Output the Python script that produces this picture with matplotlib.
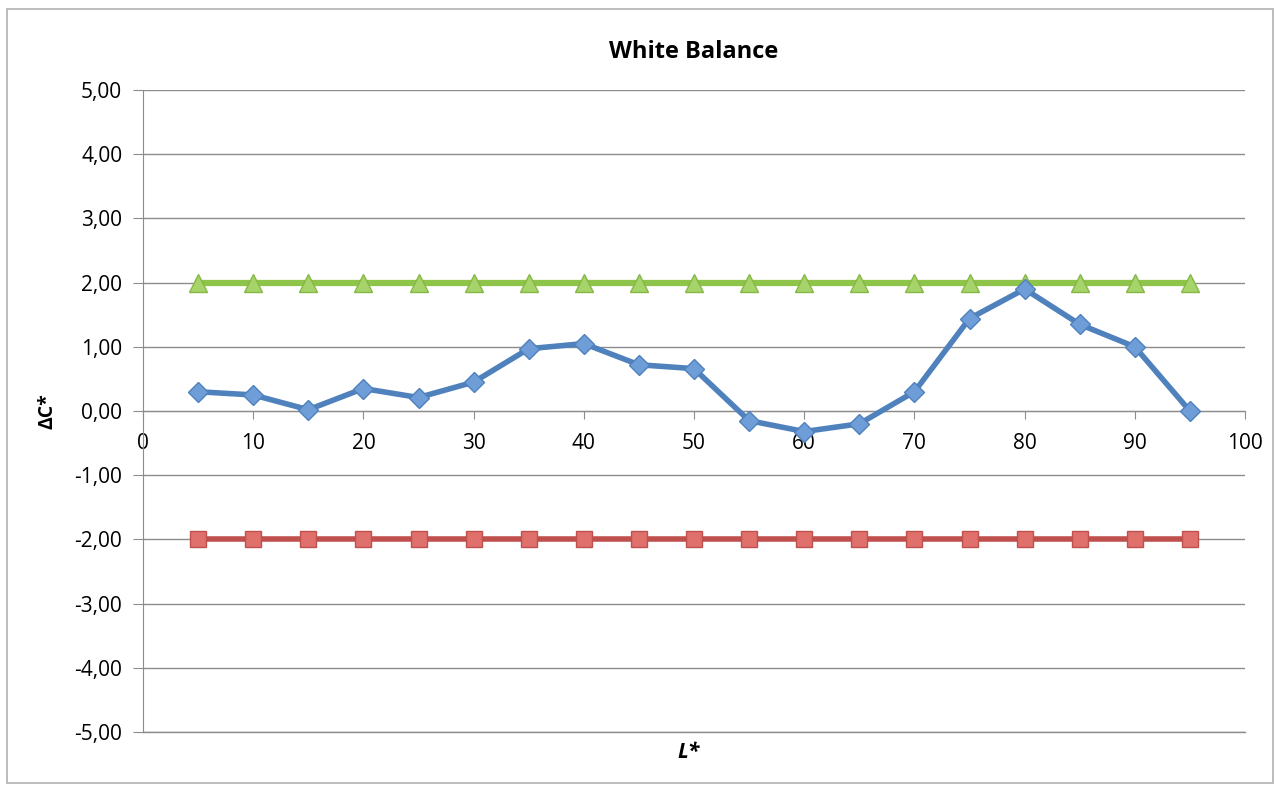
"""
White Balance chart: delta C* against L*, with the +2 / -2 tolerance lines.
"""

import matplotlib
matplotlib.use('Agg')
import matplotlib.pyplot as plt
from matplotlib.patches import Rectangle

plt.rcParams['font.family'] = ['Open Sans', 'DejaVu Sans']

# data
l_star = [5, 10, 15, 20, 25, 30, 35, 40, 45, 50, 55, 60, 65, 70, 75, 80, 85, 90, 95]
delta_c = [0.30, 0.25, 0.02, 0.35, 0.21, 0.45, 0.97, 1.05, 0.72, 0.66,
           -0.15, -0.32, -0.20, 0.30, 1.44, 1.90, 1.35, 1.00, 0.00]
upper_limit = [2.0] * len(l_star)
lower_limit = [-2.0] * len(l_star)
y_ticks = [5, 4, 3, 2, 1, 0, -1, -2, -3, -4, -5]
x_ticks = [0, 10, 20, 30, 40, 50, 60, 70, 80, 90, 100]

fig = plt.figure(figsize=(12.79, 7.87), dpi=100)
ax = fig.add_axes([143 / 1279, 55 / 787, 1102 / 1279, 642 / 787])

# chart frame
fig.patches.append(Rectangle((7 / 1279, 4 / 787), 1266 / 1279, 774 / 787,
                             transform=fig.transFigure, fill=False,
                             edgecolor='#b0b0b0', linewidth=1.2))

# lines
ax.plot(l_star, lower_limit, color='#C0504D', linewidth=4, marker='s',
        markersize=11, markerfacecolor='#E0706C', markeredgecolor='#C0504D',
        markeredgewidth=1, zorder=3)
ax.plot(l_star, upper_limit, color='#8EC449', linewidth=4.5, marker='^',
        markersize=13, markerfacecolor='#A6D36A', markeredgecolor='#86B845',
        markeredgewidth=1, zorder=3)
ax.plot(l_star, delta_c, color='#4F81BD', linewidth=4, marker='D',
        markersize=10, markerfacecolor='#6E9DD8', markeredgecolor='#4F81BD',
        markeredgewidth=1, zorder=4)

ax.set_xlim(0, 100)
ax.set_ylim(-5, 5)
ax.set_yticks(y_ticks)
ax.set_yticklabels([f'{v:.2f}'.replace('.', ',') for v in y_ticks], fontsize=15)
ax.yaxis.grid(True, color='#8c8c8c', linewidth=1)
ax.axhline(-5, color='#8c8c8c', linewidth=1, clip_on=False, zorder=0)
ax.set_axisbelow(True)
ax.tick_params(axis='y', length=7, color='#8c8c8c', pad=8)

# x axis runs through zero
ax.spines['bottom'].set_position(('data', 0))
ax.spines['bottom'].set_color('#8c8c8c')
ax.spines['left'].set_color('#8c8c8c')
ax.spines['top'].set_visible(False)
ax.spines['right'].set_visible(False)
ax.set_xticks(x_ticks)
ax.set_xticklabels([str(v) for v in x_ticks], fontsize=15)
ax.tick_params(axis='x', length=6, color='#8c8c8c', pad=10)

ax.set_title('White Balance', fontsize=17, fontweight='bold', pad=23)
ax.set_ylabel('ΔC*', fontsize=14, fontweight='bold', labelpad=12)
fig.text(689 / 1279, 1 - 752 / 787, 'L*', fontsize=15, fontweight='bold',
         fontstyle='italic', ha='center', va='center')

fig.savefig('out.png', dpi=100)
